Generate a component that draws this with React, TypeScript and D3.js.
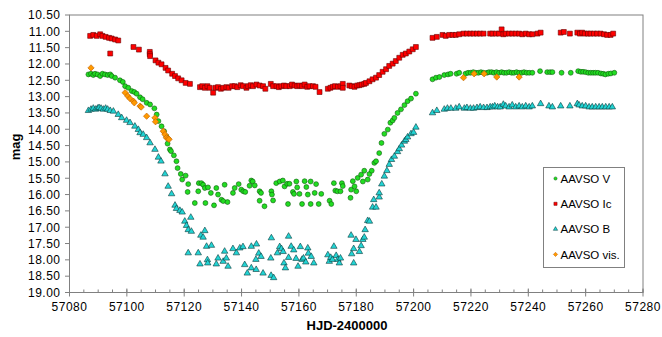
import React from "react";
import * as d3 from "d3";

// Light curve: AAVSO photometry, magnitude vs. heliocentric Julian date
type Pt = [number, number];

const vBand: Pt[] = [
  [57086.6, 12.32], [57087.5, 12.30], [57088.3, 12.34], [57088.9, 12.30], [57089.8, 12.32], [57090.7, 12.37],
  [57091.5, 12.30], [57092.4, 12.32], [57093.3, 12.34], [57094.2, 12.32], [57094.7, 12.37],
  [57095.9, 12.42], [57097.6, 12.50], [57098.6, 12.55], [57099.4, 12.68], [57100.5, 12.73], [57101.7, 12.83],
  [57102.6, 12.86], [57103.4, 12.91], [57104.6, 13.02], [57105.5, 13.08], [57106.9, 13.19], [57108.1, 13.24],
  [57109.6, 13.36], [57110.4, 13.55], [57111.0, 13.75], [57112.1, 13.91], [57113.0, 14.06], [57113.8, 14.22],
  [57114.2, 14.44], [57115.0, 14.62], [57115.4, 14.67], [57116.4, 14.80], [57117.3, 14.98], [57117.7, 15.19],
  [57118.8, 15.37], [57119.3, 15.54], [57120.5, 15.42], [57121.4, 15.68], [57121.2, 15.92], [57123.7, 16.26],
  [57124.9, 15.90], [57125.1, 15.65], [57126.0, 15.65], [57126.6, 15.70], [57127.2, 15.80], [57127.4, 16.26],
  [57128.3, 15.78], [57129.3, 15.95], [57130.4, 16.33], [57131.2, 15.80], [57131.8, 16.00], [57133.0, 16.16],
  [57133.6, 16.20], [57134.1, 15.70], [57135.1, 16.23], [57137.0, 15.95], [57137.6, 15.80], [57139.0, 15.68],
  [57139.9, 15.85], [57140.6, 15.90], [57141.3, 15.92], [57142.8, 15.73], [57143.4, 15.57], [57143.9, 15.60],
  [57144.6, 15.72], [57146.3, 15.90], [57146.8, 15.95], [57146.3, 16.19], [57148.0, 16.36], [57150.4, 15.90],
  [57150.6, 16.00], [57151.0, 16.18], [57152.1, 15.65], [57153.3, 15.60], [57154.4, 15.57], [57155.0, 15.75],
  [57155.9, 15.67], [57156.7, 15.67], [57156.2, 16.29], [57157.9, 15.92], [57158.3, 15.98], [57159.1, 15.60],
  [57159.4, 15.78], [57160.2, 15.98], [57161.1, 16.29], [57162.0, 15.59], [57162.6, 15.77], [57163.1, 16.00],
  [57164.1, 15.60], [57164.1, 16.29], [57165.5, 15.95], [57166.0, 15.68], [57166.9, 16.29], [57167.8, 15.98],
  [57170.7, 16.19], [57171.3, 16.29], [57172.2, 15.65], [57172.7, 15.88], [57173.4, 15.90], [57174.5, 15.90],
  [57175.0, 15.65], [57175.3, 15.74], [57178.0, 16.10], [57178.2, 15.85], [57178.8, 15.59], [57179.4, 15.75],
  [57180.0, 15.90], [57180.5, 15.49], [57181.7, 15.39], [57182.3, 15.60], [57182.8, 15.27], [57184.0, 15.54],
  [57184.6, 15.37], [57185.4, 15.27], [57186.3, 15.03], [57186.9, 14.98], [57188.0, 14.73], [57188.8, 14.42],
  [57189.8, 14.14], [57191.0, 14.01], [57191.9, 13.80], [57192.7, 13.73], [57193.3, 13.65], [57194.4, 13.50],
  [57195.6, 13.39], [57196.8, 13.26], [57197.9, 13.14], [57199.1, 13.06], [57200.8, 12.91],
  [57206.6, 12.47], [57207.8, 12.42], [57209.0, 12.40], [57210.7, 12.34], [57212.0, 12.32], [57212.9, 12.30],
  [57215.0, 12.30], [57215.9, 12.27], [57218.1, 12.30], [57219.0, 12.27], [57219.9, 12.27], [57220.8, 12.25],
  [57221.7, 12.27], [57222.6, 12.27], [57223.5, 12.25], [57224.4, 12.27], [57225.6, 12.27], [57226.3, 12.25],
  [57227.2, 12.25], [57228.0, 12.27], [57228.9, 12.25], [57229.8, 12.27], [57230.7, 12.25], [57231.5, 12.27],
  [57232.4, 12.27], [57233.3, 12.25], [57234.2, 12.27], [57235.0, 12.27], [57235.9, 12.25], [57236.8, 12.27],
  [57237.7, 12.27], [57238.5, 12.25], [57239.4, 12.27], [57240.3, 12.27], [57241.4, 12.27], [57244.1, 12.22],
  [57246.6, 12.25], [57247.6, 12.25], [57248.4, 12.25], [57251.6, 12.27], [57254.8, 12.27], [57257.4, 12.22],
  [57258.3, 12.24], [57259.1, 12.24], [57260.0, 12.25], [57260.9, 12.27], [57261.8, 12.27], [57262.6, 12.27],
  [57263.4, 12.27], [57264.3, 12.27], [57265.3, 12.29], [57266.1, 12.30], [57266.9, 12.32], [57267.9, 12.30],
  [57268.8, 12.29], [57270.0, 12.27],
];

const icBand: Pt[] = [
  [57087.2, 11.14], [57088.3, 11.11], [57089.5, 11.14], [57090.7, 11.09], [57091.5, 11.14], [57092.6, 11.17],
  [57093.8, 11.20], [57094.7, 11.22], [57095.9, 11.25], [57097.0, 11.28], [57094.2, 11.68], [57102.3, 11.48],
  [57104.2, 11.56], [57108.0, 11.63], [57108.0, 11.70], [57108.1, 11.76], [57110.0, 11.89], [57111.0, 11.96],
  [57112.1, 12.01], [57113.5, 12.12], [57114.4, 12.20], [57115.8, 12.30], [57116.8, 12.37], [57117.9, 12.44],
  [57119.1, 12.50], [57120.5, 12.58], [57122.0, 12.61], [57125.5, 12.71], [57126.3, 12.68], [57127.2, 12.73],
  [57128.1, 12.68], [57128.9, 12.73], [57130.1, 12.88], [57130.9, 12.73], [57131.8, 12.71], [57132.8, 12.76],
  [57133.6, 12.73], [57134.7, 12.71], [57135.5, 12.73], [57136.7, 12.68], [57137.6, 12.68], [57138.5, 12.71],
  [57139.7, 12.65], [57140.5, 12.68], [57141.7, 12.73], [57142.3, 12.68], [57143.2, 12.65], [57144.0, 12.68],
  [57145.2, 12.63], [57146.3, 12.66], [57147.5, 12.68], [57148.3, 12.76], [57150.2, 12.61], [57151.0, 12.68],
  [57152.2, 12.68], [57153.0, 12.71], [57153.9, 12.68], [57154.8, 12.66], [57155.6, 12.68], [57156.8, 12.68],
  [57157.6, 12.63], [57158.5, 12.66], [57159.4, 12.68], [57160.2, 12.66], [57161.1, 12.68], [57162.0, 12.63],
  [57162.9, 12.70], [57163.7, 12.68], [57164.9, 12.68], [57165.8, 12.70], [57167.2, 12.86], [57170.1, 12.76],
  [57171.0, 12.73], [57171.8, 12.70], [57172.6, 12.68], [57173.6, 12.70], [57174.5, 12.68], [57175.3, 12.61],
  [57175.3, 12.73], [57177.6, 12.66], [57178.4, 12.68], [57179.4, 12.70], [57180.3, 12.66], [57181.1, 12.65],
  [57181.9, 12.63], [57182.8, 12.61], [57183.4, 12.58], [57184.6, 12.53], [57185.7, 12.47], [57186.9, 12.42],
  [57188.0, 12.34], [57189.2, 12.24], [57190.4, 12.16], [57191.5, 12.06], [57192.7, 11.99], [57193.8, 11.91],
  [57195.0, 11.81], [57196.2, 11.72], [57197.3, 11.68], [57198.5, 11.62], [57199.7, 11.55], [57200.8, 11.48],
  [57206.6, 11.20], [57208.1, 11.17], [57210.1, 11.11], [57211.2, 11.14], [57212.4, 11.11], [57213.6, 11.11],
  [57214.7, 11.11], [57215.9, 11.09], [57217.4, 11.07], [57218.6, 11.07], [57219.8, 11.07], [57220.9, 11.07],
  [57222.1, 11.07], [57223.2, 11.07], [57224.4, 11.07], [57226.7, 11.07], [57227.5, 11.07], [57228.7, 11.07],
  [57229.8, 11.07], [57230.7, 10.94], [57231.3, 11.09], [57232.1, 11.07], [57233.3, 11.07], [57234.4, 11.07],
  [57235.6, 11.07], [57236.8, 11.07], [57237.9, 11.09], [57239.1, 11.07], [57240.3, 11.09], [57241.4, 11.09],
  [57243.2, 11.07], [57244.3, 11.04], [57251.3, 11.04], [57252.4, 11.02], [57254.5, 11.07], [57257.1, 11.04],
  [57258.0, 11.07], [57258.8, 11.04], [57259.7, 11.07], [57260.8, 11.07], [57261.7, 11.07], [57262.9, 11.07],
  [57264.0, 11.07], [57265.2, 11.07], [57266.4, 11.09], [57267.5, 11.11], [57268.7, 11.11], [57269.6, 11.07],
];

const bBand: Pt[] = [
  [57086.6, 13.43], [57087.5, 13.39], [57088.3, 13.36], [57089.1, 13.39], [57089.8, 13.36], [57090.3, 13.34],
  [57091.0, 13.36], [57091.8, 13.39], [57092.6, 13.36], [57093.3, 13.39], [57094.2, 13.43], [57095.3, 13.45],
  [57097.0, 13.55], [57098.2, 13.65], [57099.9, 13.73], [57101.1, 13.80], [57102.8, 13.91], [57104.0, 14.01],
  [57104.6, 14.11], [57105.7, 14.16], [57106.9, 14.26], [57108.1, 14.42], [57109.8, 14.62], [57111.0, 14.86],
  [57111.9, 14.98], [57113.3, 15.37], [57114.4, 15.75], [57115.6, 15.98], [57116.8, 16.33], [57117.3, 16.43],
  [57118.5, 16.49], [57119.3, 16.54], [57120.2, 16.82], [57120.8, 16.95], [57121.4, 17.08], [57122.3, 16.70],
  [57121.4, 17.79], [57122.5, 17.13], [57124.9, 17.79], [57125.5, 18.13], [57125.8, 17.25], [57126.6, 17.31],
  [57127.2, 17.11], [57127.8, 17.59], [57128.1, 18.00], [57128.2, 18.10], [57129.5, 17.56], [57131.2, 18.13],
  [57131.8, 17.95], [57133.6, 18.05], [57134.1, 17.74], [57134.7, 17.95], [57135.3, 18.20], [57137.0, 17.66],
  [57138.2, 17.79], [57139.4, 17.64], [57140.5, 17.60], [57141.1, 18.15], [57142.0, 18.41], [57143.4, 17.59],
  [57145.2, 17.52], [57146.0, 17.80], [57146.8, 17.90], [57145.0, 17.99], [57143.4, 18.25], [57145.1, 18.30],
  [57147.5, 18.41], [57150.2, 17.95], [57150.4, 17.33], [57150.3, 18.48], [57151.2, 18.55], [57152.5, 17.79],
  [57153.3, 17.60], [57153.9, 17.66], [57154.5, 17.75], [57154.8, 18.10], [57155.3, 18.25], [57156.4, 17.28],
  [57156.4, 17.93], [57157.3, 17.59], [57158.2, 17.70], [57159.0, 17.96], [57159.7, 18.20], [57160.5, 17.60],
  [57161.1, 17.99], [57161.6, 17.95], [57162.4, 18.07], [57163.1, 17.64], [57163.3, 17.80], [57164.3, 17.90],
  [57165.2, 18.10], [57170.1, 17.85], [57170.6, 18.05], [57171.1, 17.93], [57171.7, 17.99], [57172.2, 17.59],
  [57173.0, 17.87], [57173.6, 17.99], [57174.1, 18.10], [57174.5, 17.95], [57178.2, 17.25], [57178.4, 17.82],
  [57179.1, 17.66], [57179.1, 18.10], [57179.9, 17.38], [57181.1, 17.75], [57181.7, 17.57], [57182.3, 17.38],
  [57182.8, 17.31], [57183.1, 17.08], [57184.0, 16.80], [57184.6, 16.82], [57185.7, 16.39], [57186.1, 16.16],
  [57186.9, 16.39], [57188.0, 16.08], [57188.0, 15.95], [57188.9, 15.68], [57189.8, 15.44], [57190.7, 15.27],
  [57191.5, 15.08], [57192.3, 14.93], [57193.3, 14.83], [57194.4, 14.69], [57195.0, 14.60], [57195.8, 14.49],
  [57196.8, 14.37], [57197.3, 14.32], [57197.9, 14.24], [57199.1, 14.14], [57200.0, 14.10], [57200.8, 13.94],
  [57206.6, 13.50], [57208.1, 13.43], [57210.7, 13.39], [57211.8, 13.36], [57213.0, 13.36], [57214.7, 13.36],
  [57215.9, 13.32], [57217.7, 13.36], [57218.6, 13.34], [57219.8, 13.36], [57220.9, 13.36], [57222.1, 13.34],
  [57223.2, 13.32], [57224.4, 13.34], [57225.6, 13.34], [57226.7, 13.32], [57227.5, 13.32], [57228.3, 13.29],
  [57229.3, 13.32], [57230.2, 13.32], [57231.3, 13.24], [57232.1, 13.29], [57233.3, 13.32], [57234.4, 13.26],
  [57235.6, 13.32], [57236.8, 13.29], [57237.9, 13.32], [57239.1, 13.29], [57240.3, 13.32], [57241.4, 13.29],
  [57244.3, 13.22], [57247.2, 13.29], [57248.4, 13.32], [57251.3, 13.29], [57254.5, 13.29], [57257.1, 13.22],
  [57257.7, 13.26], [57258.8, 13.29], [57260.0, 13.29], [57261.2, 13.32], [57262.3, 13.32], [57263.5, 13.32],
  [57264.7, 13.32], [57265.8, 13.32], [57267.0, 13.32], [57268.2, 13.32], [57269.3, 13.32],
];

const visual: Pt[] = [
  [57087.5, 12.12], [57099.4, 12.88], [57100.3, 12.98], [57101.1, 13.06], [57102.3, 13.14], [57102.6, 13.19],
  [57104.6, 13.29], [57105.0, 13.32], [57106.9, 13.60], [57109.8, 13.65], [57110.0, 13.77], [57112.7, 14.06],
  [57113.3, 14.16], [57113.8, 14.26], [57114.4, 14.28], [57114.7, 14.31],
  [57217.4, 12.42], [57221.1, 12.30], [57224.6, 12.30], [57229.0, 12.40], [57236.8, 12.40],
];

const seriesNames = ["AAVSO V", "AAVSO Ic", "AAVSO B", "AAVSO vis."];
const xTickValues = d3.range(57080, 57281, 20);
const xMinorValues = d3.range(57080, 57281, 5);
const yTickValues = d3.range(0, 18).map((i) => 10.5 + i * 0.5);

const W = 662;
const H = 337;
const plot = { left: 69.5, right: 643, top: 15, bottom: 292.5 };

const x = d3.scaleLinear().domain([57080, 57280]).range([plot.left, plot.right]);
const y = d3.scaleLinear().domain([10.5, 19]).range([plot.top, plot.bottom]);

type Style = { path: string; fill: string; stroke: string; rotate?: number };

const styles: Style[] = [
  { path: d3.symbol(d3.symbolCircle, 19)()!, fill: "#22dd22", stroke: "#0a5a0a" },
  { path: d3.symbol(d3.symbolSquare, 24)()!, fill: "#ff0000", stroke: "#6a0000" },
  { path: d3.symbol(d3.symbolTriangle, 18)()!, fill: "#22d4d4", stroke: "#0a3a3a" },
  { path: d3.symbol(d3.symbolSquare, 20)()!, fill: "#ff9900", stroke: "#c06000", rotate: 45 },
];

const legendStyles: Style[] = [
  { path: d3.symbol(d3.symbolCircle, 8)()!, fill: "#22dd22", stroke: "#0a5a0a" },
  { path: d3.symbol(d3.symbolSquare, 10)()!, fill: "#ff0000", stroke: "#6a0000" },
  { path: d3.symbol(d3.symbolTriangle, 8)()!, fill: "#22d4d4", stroke: "#0a3a3a" },
  { path: d3.symbol(d3.symbolSquare, 9)()!, fill: "#ff9900", stroke: "#c06000", rotate: 45 },
];

const allSeries: Pt[][] = [vBand, icBand, bBand, visual];

const font = "'Liberation Sans', Arial, sans-serif";
const lineColor = "#808080";

export default function App() {
  return (
    <svg
      width={W}
      height={H}
      viewBox={`0 0 ${W} ${H}`}
      style={{ position: "absolute", left: 0, top: 0, background: "#fff" }}
      fontFamily={font}
    >
      <rect x={0} y={0} width={W} height={H} fill="#fff" />
      {/* plot frame */}
      <rect
        x={plot.left}
        y={plot.top}
        width={plot.right - plot.left}
        height={plot.bottom - plot.top}
        fill="none"
        stroke={lineColor}
        strokeWidth={1}
      />
      {/* x-axis ticks */}
      {xMinorValues.map((v) => (
        <line key={"xm" + v} x1={x(v)} x2={x(v)} y1={plot.bottom - 3} y2={plot.bottom} stroke={lineColor} />
      ))}
      {xTickValues.map((v) => (
        <g key={"x" + v}>
          <line x1={x(v)} x2={x(v)} y1={plot.bottom - 4} y2={plot.bottom + 4} stroke={lineColor} />
          <text x={x(v)} y={plot.bottom + 18} textAnchor="middle" fontSize={12} letterSpacing={0.5} fill="#000">
            {v}
          </text>
        </g>
      ))}
      {/* y-axis ticks */}
      {yTickValues.map((v) => (
        <g key={"y" + v}>
          <line x1={plot.left - 4.5} x2={plot.left} y1={y(v)} y2={y(v)} stroke={lineColor} />
          <text x={plot.left - 9} y={y(v) + 4.3} textAnchor="end" fontSize={12} letterSpacing={0.5} fill="#000">
            {v.toFixed(2)}
          </text>
        </g>
      ))}
      {/* axis titles */}
      <text x={347} y={330} textAnchor="middle" fontSize={13} fontWeight="bold" fill="#000">
        HJD-2400000
      </text>
      <text
        transform={`translate(20,${147}) rotate(-90)`}
        textAnchor="middle"
        fontSize={13}
        fontWeight="bold"
        fill="#000"
      >
        mag
      </text>
      {/* data */}
      {allSeries.map((data, si) => {
        const s = styles[si];
        return (
          <g key={"s" + si}>
            {data.map((d, i) => (
              <path
                key={i}
                d={s.path}
                transform={`translate(${x(d[0])},${y(d[1])})${s.rotate ? ` rotate(${s.rotate})` : ""}`}
                fill={s.fill}
                stroke={s.stroke}
                strokeWidth={0.6}
              />
            ))}
          </g>
        );
      })}
      {/* legend */}
      <g>
        <rect x={543.5} y={167.5} width={81} height={100} fill="#fff" stroke={lineColor} />
        {seriesNames.map((name, i) => {
          const cy = 178.5 + i * 25.3;
          const s = legendStyles[i];
          return (
            <g key={name}>
              <path
                d={s.path}
                transform={`translate(555.5,${cy})${s.rotate ? ` rotate(${s.rotate})` : ""}`}
                fill={s.fill}
                stroke={s.stroke}
                strokeWidth={0.5}
              />
              <text x={560.5} y={cy + 4.2} fontSize={11.5} fill="#000">
                {name}
              </text>
            </g>
          );
        })}
      </g>
    </svg>
  );
}
